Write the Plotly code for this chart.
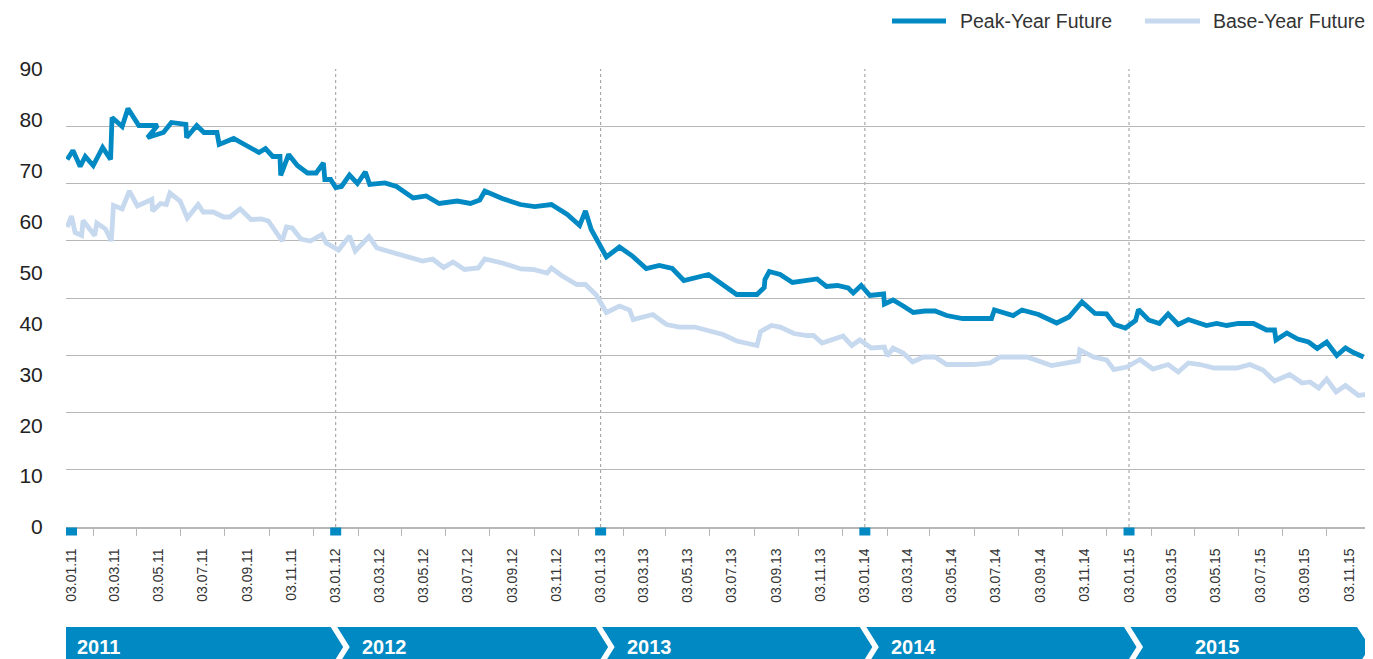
import plotly.graph_objects as go
import pandas as pd

# ---------------- data ----------------
peak_dates = [
    "2010-12-28", "2011-01-05", "2011-01-15", "2011-01-22", "2011-02-02", "2011-02-15", "2011-02-26",
    "2011-02-28", "2011-03-14", "2011-03-22", "2011-04-06", "2011-05-02", "2011-04-18", "2011-05-10",
    "2011-05-21", "2011-06-10", "2011-06-11", "2011-06-25", "2011-07-05", "2011-07-23", "2011-07-26",
    "2011-08-15", "2011-09-19", "2011-09-28", "2011-10-08", "2011-10-18", "2011-10-19", "2011-10-30",
    "2011-11-11", "2011-11-25", "2011-12-07", "2011-12-17", "2011-12-19", "2011-12-27", "2012-01-03",
    "2012-01-11", "2012-01-22", "2012-02-02", "2012-02-13", "2012-02-19", "2012-03-11", "2012-03-27",
    "2012-04-19", "2012-05-07", "2012-05-25", "2012-06-19", "2012-07-07", "2012-07-20", "2012-07-27",
    "2012-08-20", "2012-09-14", "2012-10-04", "2012-10-27", "2012-11-18", "2012-12-05", "2012-12-13",
    "2012-12-21", "2013-01-11", "2013-01-29", "2013-02-15", "2013-03-07", "2013-03-25", "2013-04-12",
    "2013-04-28", "2013-06-01", "2013-07-10", "2013-08-07", "2013-08-17", "2013-08-18", "2013-08-24",
    "2013-09-08", "2013-09-25", "2013-10-29", "2013-11-11", "2013-11-26", "2013-12-11", "2013-12-18",
    "2013-12-29", "2014-01-10", "2014-01-29", "2014-01-30", "2014-02-11", "2014-02-25", "2014-03-11",
    "2014-03-27", "2014-04-10", "2014-04-26", "2014-05-18", "2014-06-27", "2014-07-01", "2014-07-27",
    "2014-08-08", "2014-08-31", "2014-09-25", "2014-10-12", "2014-10-30", "2014-11-17", "2014-12-03",
    "2014-12-14", "2014-12-29", "2015-01-12", "2015-01-16", "2015-01-30", "2015-02-14", "2015-02-26",
    "2015-03-12", "2015-03-26", "2015-04-20", "2015-05-04", "2015-05-18", "2015-06-03", "2015-06-24",
    "2015-07-12", "2015-07-23", "2015-07-25", "2015-08-09", "2015-08-24", "2015-09-08", "2015-09-20",
    "2015-10-03", "2015-10-17", "2015-10-29", "2015-11-09", "2015-11-23",
]
peak_values = [
    64.19, 65.76, 62.97, 64.72, 63.14, 66.29, 64.19,
    71.53, 69.96, 73.10, 70.13, 70.13, 68.03, 68.91,
    70.66, 70.31, 68.03, 70.13, 68.91, 68.91, 66.81,
    67.86, 65.41, 66.11, 64.72, 64.72, 61.40, 65.07,
    63.14, 61.83, 61.83, 63.58, 60.70, 60.70, 59.30,
    59.48, 61.48, 60.00, 62.01, 59.83, 60.09, 59.48,
    57.47, 57.82, 56.51, 56.94, 56.51, 57.12, 58.69,
    57.38, 56.33, 55.98, 56.33, 54.59, 52.66, 55.20,
    51.97, 47.16, 48.91, 47.42, 45.15, 45.68, 45.15,
    43.06, 44.10, 40.61, 40.61, 41.83, 43.23, 44.63,
    44.10, 42.71, 43.32, 42.01, 42.18, 41.75, 40.87,
    42.18, 40.44, 40.70, 38.95, 39.65, 38.60, 37.47,
    37.73, 37.73, 36.94, 36.42, 36.42, 37.90, 36.94,
    37.90, 37.12, 35.63, 36.68, 39.30, 37.29, 37.21,
    35.37, 34.76, 36.07, 37.99, 36.16, 35.55, 37.21,
    35.37, 36.24, 35.20, 35.55, 35.20, 35.55, 35.55,
    34.41, 34.41, 32.66, 33.89, 32.84, 32.31, 31.18,
    32.31, 29.96, 31.27, 30.48, 29.69,
]

base_dates = [
    "2010-12-28", "2011-01-03", "2011-01-08", "2011-01-17", "2011-01-19", "2011-02-04", "2011-02-07",
    "2011-02-19", "2011-02-27", "2011-03-02", "2011-03-14", "2011-03-24", "2011-04-04", "2011-04-24",
    "2011-04-25", "2011-05-06", "2011-05-14", "2011-05-19", "2011-06-02", "2011-06-12", "2011-06-27",
    "2011-07-04", "2011-07-18", "2011-08-01", "2011-08-10", "2011-08-24", "2011-09-08", "2011-09-22",
    "2011-10-02", "2011-10-21", "2011-10-27", "2011-11-04", "2011-11-16", "2011-11-29", "2011-12-15",
    "2011-12-21", "2012-01-07", "2012-01-22", "2012-01-30", "2012-02-18", "2012-02-29", "2012-03-27",
    "2012-05-02", "2012-05-16", "2012-05-31", "2012-06-13", "2012-06-29", "2012-07-18", "2012-07-27",
    "2012-08-20", "2012-09-15", "2012-10-02", "2012-10-21", "2012-10-27", "2012-11-10", "2012-12-01",
    "2012-12-13", "2012-12-28", "2013-01-11", "2013-01-29", "2013-02-12", "2013-02-17", "2013-03-16",
    "2013-04-04", "2013-04-22", "2013-05-13", "2013-06-08", "2013-06-21", "2013-07-10", "2013-08-07",
    "2013-08-12", "2013-08-27", "2013-09-08", "2013-09-27", "2013-10-15", "2013-10-24", "2013-11-05",
    "2013-12-04", "2013-12-16", "2013-12-27", "2014-01-12", "2014-01-30", "2014-02-03", "2014-02-11",
    "2014-02-25", "2014-03-10", "2014-03-25", "2014-04-10", "2014-04-26", "2014-06-02", "2014-06-25",
    "2014-07-09", "2014-08-15", "2014-09-18", "2014-10-25", "2014-10-27", "2014-11-15", "2014-12-03",
    "2014-12-13", "2014-12-31", "2015-01-18", "2015-02-05", "2015-02-26", "2015-03-12", "2015-03-26",
    "2015-04-11", "2015-05-01", "2015-06-01", "2015-06-19", "2015-07-07", "2015-07-23", "2015-08-13",
    "2015-08-30", "2015-09-10", "2015-09-22", "2015-10-03", "2015-10-16", "2015-10-29", "2015-11-16",
    "2015-11-27",
]
base_values = [
    52.40, 54.32, 51.44, 50.92, 53.54, 50.92, 53.10,
    52.05, 49.96, 56.16, 55.55, 58.69, 56.07, 57.21,
    55.20, 56.51, 56.33, 58.34, 56.94, 53.97, 56.33,
    55.02, 55.02, 54.15, 54.15, 55.55, 53.71, 53.80,
    53.45, 49.96, 52.40, 52.23, 50.31, 49.96, 51.09,
    49.61, 48.38, 50.83, 48.21, 50.74, 48.73, 47.77,
    46.46, 46.81, 45.33, 46.29, 44.98, 45.24, 46.81,
    46.11, 45.07, 44.98, 44.37, 45.24, 43.93, 42.36,
    42.36, 40.52, 37.47, 38.60, 37.90, 36.24, 37.12,
    35.37, 34.93, 34.93, 34.06, 33.62, 32.49, 31.70,
    34.15, 35.20, 34.93, 33.80, 33.45, 33.45, 32.14,
    33.36, 31.70, 32.66, 31.27, 31.44, 29.87, 31.27,
    30.39, 28.82, 29.69, 29.69, 28.38, 28.38, 28.65,
    29.69, 29.69, 28.21, 29.00, 30.92, 29.69, 29.17,
    27.51, 27.95, 29.26, 27.60, 28.38, 27.07, 28.65,
    28.38, 27.77, 27.77, 28.38, 27.42, 25.50, 26.64,
    25.15, 25.33, 24.28, 25.85, 23.58, 24.72, 22.97,
    23.14,
]

tick_labels = [
    "03.01.11", "03.03.11", "03.05.11", "03.07.11", "03.09.11", "03.11.11",
    "03.01.12", "03.03.12", "03.05.12", "03.07.12", "03.09.12", "03.11.12",
    "03.01.13", "03.03.13", "03.05.13", "03.07.13", "03.09.13", "03.11.13",
    "03.01.14", "03.03.14", "03.05.14", "03.07.14", "03.09.14", "03.11.14",
    "03.01.15", "03.03.15", "03.05.15", "03.07.15", "03.09.15", "03.11.15",
]
minor_tick_labels = [
    "03.02.11", "03.04.11", "03.06.11", "03.08.11", "03.10.11", "03.12.11",
    "03.02.12", "03.04.12", "03.06.12", "03.08.12", "03.10.12", "03.12.12",
    "03.02.13", "03.04.13", "03.06.13", "03.08.13", "03.10.13", "03.12.13",
    "03.02.14", "03.04.14", "03.06.14", "03.08.14", "03.10.14", "03.12.14",
    "03.02.15", "03.04.15", "03.06.15", "03.08.15", "03.10.15",
]
year_labels = ["2011", "2012", "2013", "2014", "2015"]
year_starts = ["03.01.11", "03.01.12", "03.01.13", "03.01.14", "03.01.15"]
grid_values = [0, 10, 20, 30, 40, 50, 60, 70, 80]
label_values = [0, 10, 20, 30, 40, 50, 60, 70, 80, 90]
series_names = ["Peak-Year Future", "Base-Year Future"]

# ---------------- style ----------------
PEAK = "#0089c2"
BASE = "#c7d9ee"
GRID = "#b7b7b7"
FONT = "Liberation Sans"

# page offset of the figure (browser body margin)
OFF = 8
W, H = 1373 - OFF, 659 - OFF
# plot area in page pixels
PL, PT, PW, PH = 66, 69, 1304, 458
L, T = PL - OFF, PT - OFF
R = W - L - PW
B = H - T - PH

X0 = pd.Timestamp("2010-12-26 09:36")
X1 = pd.Timestamp("2015-12-01 21:36")

tick_dates = pd.to_datetime(tick_labels, format="%d.%m.%y")
minor_dates = pd.to_datetime(minor_tick_labels, format="%d.%m.%y")
year_dates = pd.to_datetime(year_starts, format="%d.%m.%y")


def date_px(d):
    return PL + (pd.Timestamp(d) - X0) / (X1 - X0) * PW


def px_x(px):
    return (px - PL) / PW


def px_y(py):
    return (PT + PH - py) / PH


fig = go.Figure()
fig.add_trace(go.Scatter(x=pd.to_datetime(base_dates), y=base_values, mode="lines",
                         name=series_names[1], line=dict(color=BASE, width=4.8),
                         showlegend=False, hoverinfo="skip"))
fig.add_trace(go.Scatter(x=pd.to_datetime(peak_dates), y=peak_values, mode="lines",
                         name=series_names[0], line=dict(color=PEAK, width=4.8),
                         showlegend=False, hoverinfo="skip"))
# invisible trace to carry the labelled y axis
fig.add_trace(go.Scatter(x=[tick_dates[0]], y=[0], yaxis="y2", mode="markers",
                         marker=dict(opacity=0), showlegend=False, hoverinfo="skip"))

shapes = []
# dotted year separators
for d in year_dates[1:]:
    shapes.append(dict(type="line", xref="x", yref="y", x0=d, x1=d, y0=0, y1=80,
                       line=dict(color="#9a9a9a", width=1, dash="dot"), layer="below"))
# blue squares at year starts (just below the axis line)
for d in year_dates:
    cx = px_x(date_px(d))
    shapes.append(dict(type="rect", xref="paper", yref="paper",
                       x0=cx - 5.5 / PW, x1=cx + 5.5 / PW,
                       y0=px_y(PT + PH + 8.5), y1=px_y(PT + PH + 0.5),
                       fillcolor=PEAK, line=dict(width=0), layer="above"))

# year band (chevrons)
band_top, band_mid, band_bot = 627, 647, 667
bounds = [date_px(d) for d in year_dates[1:]]
for i, yl in enumerate(year_labels):
    if i < len(year_labels) - 1:
        b = bounds[i]
        right = [(b - 5, band_top), (b + 7.5, band_mid), (b - 5, band_bot)]
    else:
        right = [(1357, band_top), (1370, band_mid), (1357, band_bot)]
    if i == 0:
        pts = [(PL, band_top)] + right + [(PL, band_bot)]
    else:
        b = bounds[i - 1]
        pts = [(b + 1.5, band_top)] + right + [(b + 1.5, band_bot), (b + 14, band_mid)]
    path = "M " + " L ".join(f"{px_x(x):.5f},{px_y(y):.5f}" for x, y in pts) + " Z"
    shapes.append(dict(type="path", xref="paper", yref="paper", path=path,
                       fillcolor=PEAK, line=dict(width=0), layer="above"))

annotations = []
for i, yl in enumerate(year_labels):
    if i == 0:
        ax, anchor = 75, "left"
    elif i < len(year_labels) - 1:
        ax, anchor = bounds[i - 1] + 24, "left"
    else:
        ax, anchor = 1217, "center"
    annotations.append(dict(xref="paper", yref="paper", x=px_x(ax), y=px_y(646.5),
                            text=f"<b>{yl}</b>", showarrow=False, xanchor=anchor, yanchor="middle",
                            font=dict(family=FONT, size=20, color="white")))

# manual legend
legend_items = [(series_names[0], PEAK, 892, 946, 958), (series_names[1], BASE, 1145, 1200, 1211)]
for name, col, lx0, lx1, tx in legend_items:
    shapes.append(dict(type="line", xref="paper", yref="paper", x0=px_x(lx0), x1=px_x(lx1),
                       y0=px_y(21), y1=px_y(21), line=dict(color=col, width=5)))
    annotations.append(dict(xref="paper", yref="paper", x=px_x(tx), y=px_y(21), text=name,
                            showarrow=False, xanchor="left", yanchor="middle",
                            font=dict(family=FONT, size=19.5, color="#333333")))

fig.update_layout(
    width=W, height=H,
    margin=dict(l=L, r=R, t=T, b=B, pad=0),
    paper_bgcolor="white", plot_bgcolor="white",
    showlegend=False,
    font=dict(family=FONT, color="#333333"),
    xaxis=dict(
        type="date", range=[X0, X1],
        tickmode="array", tickvals=tick_dates, ticktext=tick_labels,
        tickangle=-90, tickfont=dict(family=FONT, size=14, color="#333333"),
        ticks="", ticklabelstandoff=14,
        showgrid=False, zeroline=False,
        showline=True, linecolor=GRID, linewidth=1.5,
        minor=dict(tickmode="array", tickvals=minor_dates, ticks="outside",
                   ticklen=7, tickwidth=1.2, tickcolor=GRID, showgrid=False),
    ),
    yaxis=dict(
        range=[0, 80], tickmode="array", tickvals=grid_values,
        showticklabels=False, ticks="",
        showgrid=True, gridcolor=GRID, gridwidth=1.3, zeroline=False, showline=False,
    ),
    yaxis2=dict(
        overlaying="y", side="left", anchor="x", range=[0, 90],
        tickmode="array", tickvals=label_values,
        tickfont=dict(family=FONT, size=21, color="#222222"),
        ticks="outside", ticklen=18, tickcolor="rgba(0,0,0,0)",
        showgrid=False, zeroline=False, showline=False,
    ),
    shapes=shapes,
    annotations=annotations,
)

fig.write_html("out.html")
